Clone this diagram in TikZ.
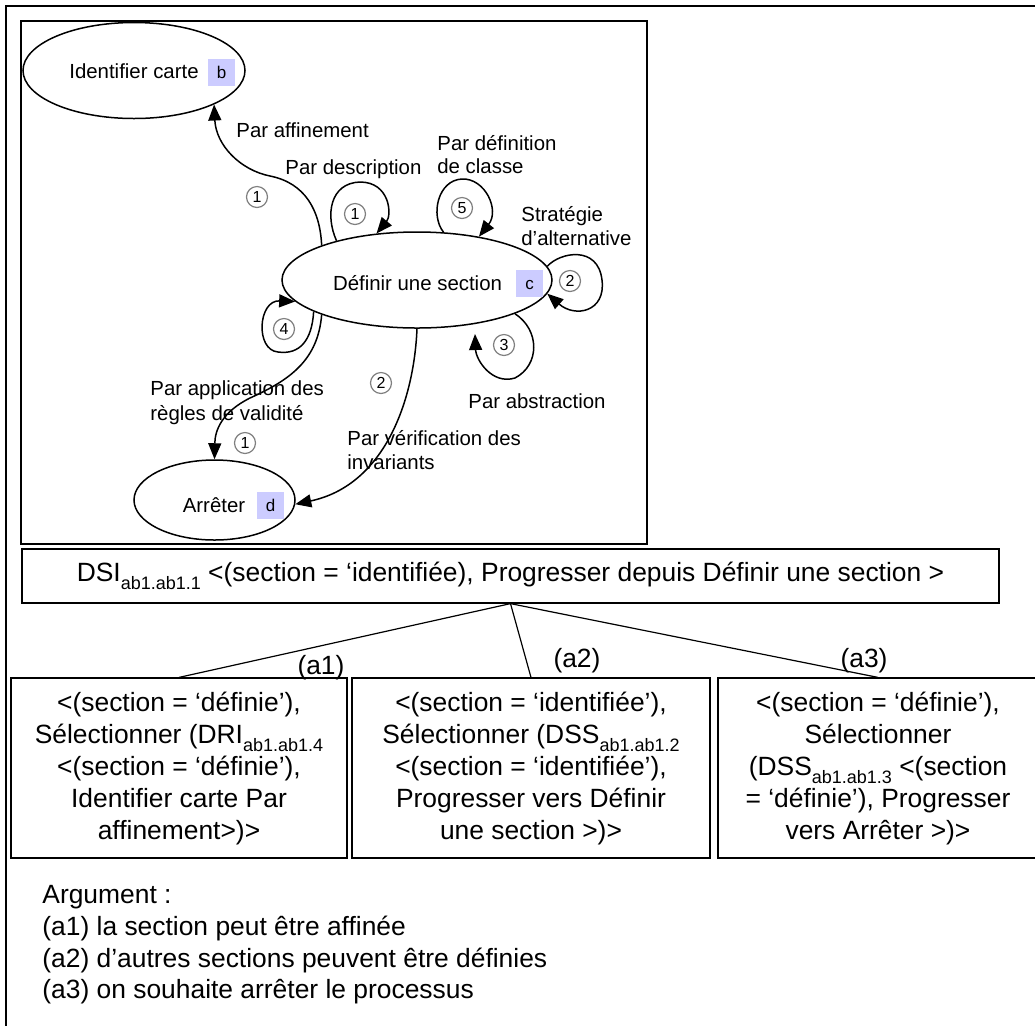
\documentclass[tikz,border=0pt]{standalone}
\usepackage{fontspec}
\setmainfont{Liberation Sans}
\usetikzlibrary{arrows.meta,shapes.geometric}
\definecolor{tagcol}{RGB}{204,204,255}
\newcommand\lowidx[1]{\raisebox{-4pt}{\fontsize{9}{9}\selectfont #1}}
\tikzset{
  lab/.style={font=\fontsize{10.2}{12.25}\selectfont, inner sep=0, anchor=base west},
  labc/.style={font=\fontsize{10.2}{12.25}\selectfont, inner sep=0, anchor=base},
  ell/.style={draw, ellipse, line width=0.75pt, inner sep=0},
  tag/.style={fill=tagcol, minimum size=13.5pt, inner sep=0, font=\fontsize{8.5}{8.5}\selectfont, text height=6.2pt, text depth=0pt},
  num/.style={draw=gray, circle, line width=0.6pt, minimum size=10.5pt, inner sep=0, font=\fontsize{8}{8}\selectfont},
  arr/.style={line width=0.75pt, -{Triangle[length=8pt,width=6.5pt]}},
  big/.style={font=\fontsize{13.2}{16}\selectfont},
  bigl/.style={big, inner sep=0, anchor=base west},
  bigc/.style={big, inner sep=0, anchor=base},
  tbox/.style={draw, line width=0.6pt, align=center, big, inner sep=0},
  conn/.style={line width=0.6pt},
}
\begin{document}
\begin{tikzpicture}[x=0.5pt,y=-0.5pt]
\useasboundingbox (0,0) rectangle (1035,1025);
\clip (0,0) rectangle (1035,1025);
% frames
\draw[line width=1pt] (6,1030) -- (6,6) -- (1040,6);
\draw[line width=1pt] (21,21) rectangle (647,544);
% ellipses
\node[ell, minimum width=111pt, minimum height=48pt] (ic) at (134,70.5) {};
\node[ell, minimum width=135pt, minimum height=48pt] (ds) at (417,280) {};
\node[ell, minimum width=80.5pt, minimum height=40pt] (ar) at (214.5,500) {};
\node[labc] (ict) at (134,78) {Identifier carte};
\node[labc] (dst) at (417.5,290) {Définir une section};
\node[labc] (art) at (214,512) {Arrêter};
\node[tag] (tb) at (221.5,72.5) {b};
\node[tag] (tc) at (529.5,283.5) {c};
\node[tag] (td) at (270.5,505.5) {d};
% edges
\coordinate (t3) at (475,334);
\draw[arr] (ds.160) .. controls (320,210) and (305,183) .. (270,176) .. controls (240,170) and (216,145) .. (ic.337);
\draw[arr] (ds.154) .. controls (325,215) and (330,183) .. (360,182) .. controls (390,182) and (392,215) .. (ds.131);
\draw[arr] (ds.61) .. controls (430,215) and (438,180) .. (462,179) .. controls (485,178) and (500,210) .. (ds.35);
\draw[arr] (ds.6) .. controls (560,252) and (598,245) .. (602,280) .. controls (606,312) and (575,318) .. (ds.354);
\draw[arr] (ds.341) .. controls (540,330) and (540,365) .. (515,378) .. controls (492,385) and (476,360) .. (t3);
\draw[arr] (ds.197) .. controls (312,340) and (300,355) .. (278,352) .. controls (255,350) and (258,300) .. (ds.190);
\draw[arr] (ds.200) .. controls (318,360) and (290,380) .. (250,398) .. controls (222,412) and (215,430) .. (ar.90);
\draw[arr] (ds.270) .. controls (414,400) and (385,485) .. (ar.357);
% circled numbers
\node[num] (n1a) at (257,197) {1};
\node[num] (n1b) at (355,214) {1};
\node[num] (n5) at (462,208) {5};
\node[num] (n2r) at (570,281) {2};
\node[num] (n3) at (504,345) {3};
\node[num] (n4) at (284,329) {4};
\node[num] (n2v) at (381,383) {2};
\node[num] (n1v) at (245,443) {1};
% labels
\node[lab] (l1) at (236,137) {Par affinement};
\node[lab] (l2) at (285,174) {Par description};
\node[lab] (l3a) at (437,150) {Par définition};
\node[lab] (l3b) at (437,173) {de classe};
\node[lab] (l4a) at (521,221) {Stratégie};
\node[lab] (l4b) at (521,245) {d’alternative};
\node[lab] (l5) at (468,408) {Par abstraction};
\node[lab] (l6a) at (150,395) {Par application des};
\node[lab] (l6b) at (150,420) {règles de validité};
\node[lab] (l7a) at (347,445) {Par vérification des};
\node[lab] (l7b) at (347,469) {invariants};
% bottom tree
\node[tbox, minimum width=488.5pt, minimum height=27pt] (dsi) at (510.5,576) {DSI\lowidx{ab1.ab1.1} <(section = ‘identifiée), Progresser depuis Définir une section >};
\node[tbox, minimum width=168pt, minimum height=90pt] (c1) at (179,768) {<(section = ‘définie’),\\Sélectionner (DRI\lowidx{ab1.ab1.4}\\<(section = ‘définie’),\\Identifier carte Par\\affinement>)>};
\node[tbox, minimum width=179pt, minimum height=90pt] (c2) at (531,768) {<(section = ‘identifiée’),\\Sélectionner (DSS\lowidx{ab1.ab1.2}\\<(section = ‘identifiée’),\\Progresser vers Définir\\une section >)>};
\node[tbox, minimum width=160pt, minimum height=90pt] (c3) at (878,768) {<(section = ‘définie’),\\Sélectionner\\(DSS\lowidx{ab1.ab1.3} <(section\\= ‘définie’), Progresser\\vers Arrêter >)>};
\draw[conn] (dsi.south) -- (c1.north);
\draw[conn] (dsi.south) -- (c2.north);
\draw[conn] (dsi.south) -- (c3.north);
\node[bigc] (a1) at (321,674) {(a1)};
\node[bigc] (a2) at (577,667) {(a2)};
\node[bigc] (a3) at (864,667) {(a3)};
% argument
\node[bigl] (g0) at (42,903) {Argument :};
\node[bigl] (g1) at (42,935) {(a1) la section peut être affinée};
\node[bigl] (g2) at (42,967) {(a2) d’autres sections peuvent être définies};
\node[bigl] (g3) at (42,998) {(a3) on souhaite arrêter le processus};
\end{tikzpicture}
\end{document}
